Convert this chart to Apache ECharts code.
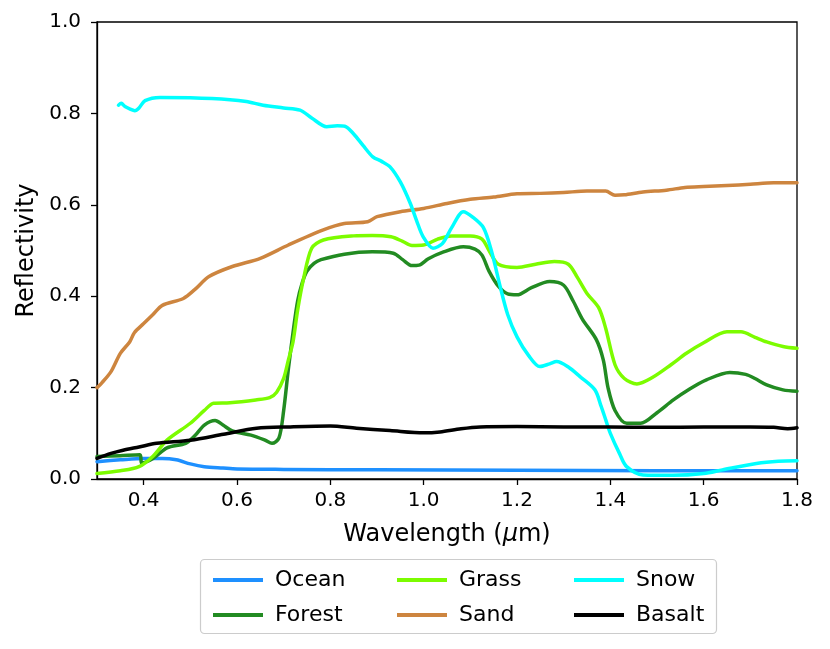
<!DOCTYPE html>
<html>
<head>
<meta charset="utf-8">
<script src="https://cdn.jsdelivr.net/npm/echarts@6/dist/echarts.min.js"></script>
<style>
  html, body { margin: 0; padding: 0; background: #fff; }
  #chart { width: 830px; height: 649px; }
</style>
</head>
<body>
<div id="chart"></div>
<script>
// Reflectivity spectra (wavelength in um)
const oceanWl = [0.3, 0.35, 0.4, 0.44, 0.47, 0.5, 0.53, 0.57, 0.6, 0.7, 0.9, 1.2, 1.5, 1.8];
const oceanR  = [0.038, 0.042, 0.045, 0.045, 0.042, 0.033, 0.027, 0.024, 0.022, 0.021, 0.02, 0.019, 0.018, 0.018];

const forestWl = [0.3, 0.35, 0.392, 0.396, 0.42, 0.45, 0.49, 0.51, 0.53, 0.553, 0.57, 0.59, 0.63, 0.66, 0.675,
  0.69, 0.7, 0.71, 0.72, 0.73, 0.74, 0.75, 0.765, 0.78, 0.83, 0.89, 0.935, 0.955, 0.975, 0.99, 1.01, 1.04,
  1.085, 1.11, 1.125, 1.14, 1.16, 1.18, 1.2, 1.23, 1.27, 1.3, 1.32, 1.34, 1.37, 1.385, 1.395, 1.41, 1.435,
  1.465, 1.5, 1.535, 1.57, 1.606, 1.656, 1.69, 1.71, 1.735, 1.77, 1.8];
const forestR = [0.049, 0.051, 0.053, 0.035, 0.045, 0.068, 0.078, 0.095, 0.118, 0.128, 0.118, 0.105, 0.096, 0.085, 0.078,
  0.09, 0.15, 0.24, 0.32, 0.39, 0.43, 0.455, 0.472, 0.48, 0.492, 0.497, 0.494, 0.48, 0.467, 0.468, 0.482, 0.496,
  0.508, 0.503, 0.49, 0.455, 0.422, 0.405, 0.403, 0.418, 0.432, 0.424, 0.39, 0.35, 0.305, 0.26, 0.2, 0.15, 0.122,
  0.122, 0.145, 0.173, 0.197, 0.217, 0.233, 0.229, 0.22, 0.206, 0.195, 0.192];

const grassWl = [0.3, 0.35, 0.39, 0.42, 0.45, 0.5, 0.53, 0.55, 0.585, 0.64, 0.67, 0.685, 0.7, 0.71, 0.72, 0.73,
  0.742, 0.76, 0.785, 0.85, 0.89, 0.93, 0.955, 0.975, 1.0, 1.03, 1.06, 1.1, 1.125, 1.14, 1.16, 1.2, 1.24, 1.28,
  1.31, 1.33, 1.35, 1.375, 1.39, 1.41, 1.43, 1.457, 1.49, 1.53, 1.563, 1.6, 1.65, 1.68, 1.71, 1.735, 1.77, 1.8];
const grassR = [0.012, 0.018, 0.027, 0.05, 0.085, 0.122, 0.15, 0.166, 0.167, 0.173, 0.178, 0.19, 0.22, 0.26, 0.3, 0.37,
  0.435, 0.505, 0.523, 0.532, 0.533, 0.53, 0.52, 0.511, 0.512, 0.525, 0.532, 0.532, 0.525, 0.5, 0.47, 0.463, 0.47, 0.476,
  0.47, 0.44, 0.406, 0.375, 0.33, 0.25, 0.22, 0.208, 0.222, 0.25, 0.275, 0.298, 0.322, 0.322, 0.31, 0.3, 0.29, 0.286];

const sandWl = [0.3, 0.31, 0.33, 0.35, 0.37, 0.38, 0.4, 0.42, 0.44, 0.485, 0.51, 0.54, 0.59, 0.65, 0.71, 0.785,
  0.83, 0.88, 0.9, 0.95, 1.0, 1.05, 1.1, 1.15, 1.2, 1.25, 1.3, 1.35, 1.39, 1.41, 1.43, 1.47, 1.52, 1.56, 1.6,
  1.65, 1.7, 1.75, 1.8];
const sandR = [0.2, 0.21, 0.235, 0.275, 0.3, 0.32, 0.34, 0.36, 0.38, 0.395, 0.415, 0.443, 0.465, 0.483, 0.512, 0.545,
  0.559, 0.563, 0.574, 0.585, 0.592, 0.603, 0.612, 0.617, 0.624, 0.625, 0.627, 0.63, 0.63, 0.621, 0.622, 0.628, 0.632,
  0.638, 0.64, 0.642, 0.645, 0.648, 0.648];

const snowWl = [0.346, 0.352, 0.36, 0.37, 0.381, 0.39, 0.403, 0.435, 0.5, 0.585, 0.62, 0.656, 0.7, 0.735, 0.76,
  0.792, 0.815, 0.831, 0.85, 0.87, 0.891, 0.91, 0.928, 0.95, 0.971, 0.985, 0.999, 1.02, 1.04, 1.06, 1.085, 1.105,
  1.128, 1.145, 1.164, 1.18, 1.2, 1.225, 1.249, 1.27, 1.285, 1.31, 1.335, 1.367, 1.38, 1.39, 1.4, 1.42, 1.435,
  1.47, 1.534, 1.6, 1.64, 1.713, 1.76, 1.8];
const snowR = [0.818, 0.822, 0.815, 0.81, 0.806, 0.812, 0.828, 0.835, 0.834, 0.83, 0.826, 0.818, 0.812, 0.807, 0.79,
  0.771, 0.773, 0.772, 0.755, 0.73, 0.705, 0.695, 0.683, 0.65, 0.604, 0.565, 0.53, 0.505, 0.515, 0.55, 0.585, 0.573,
  0.55, 0.5, 0.421, 0.36, 0.311, 0.27, 0.246, 0.252, 0.257, 0.245, 0.224, 0.195, 0.16, 0.13, 0.1, 0.055, 0.027,
  0.009, 0.008, 0.012, 0.02, 0.034, 0.039, 0.04];

const basaltWl = [0.3, 0.33, 0.356, 0.39, 0.428, 0.5, 0.571, 0.642, 0.714, 0.8, 0.856, 0.928, 1.0, 1.035, 1.08,
  1.121, 1.2, 1.3, 1.4, 1.5, 1.6, 1.7, 1.75, 1.78, 1.8];
const basaltR = [0.045, 0.056, 0.063, 0.07, 0.078, 0.085, 0.098, 0.111, 0.114, 0.116, 0.111, 0.106, 0.101, 0.103, 0.11,
  0.114, 0.115, 0.114, 0.114, 0.113, 0.114, 0.114, 0.113, 0.11, 0.112];

const xTicks = [0.4, 0.6, 0.8, 1.0, 1.2, 1.4, 1.6, 1.8];

const surfaces = [
  { name: 'Ocean',  color: '#1E90FF', wl: oceanWl,  r: oceanR },
  { name: 'Forest', color: '#228B22', wl: forestWl, r: forestR },
  { name: 'Grass',  color: '#7CFC00', wl: grassWl,  r: grassR },
  { name: 'Sand',   color: '#CD853F', wl: sandWl,   r: sandR },
  { name: 'Snow',   color: '#00FFFF', wl: snowWl,   r: snowR },
  { name: 'Basalt', color: '#000000', wl: basaltWl, r: basaltR }
];

const font = 'DejaVu Sans';

// legend is 3 columns x 2 rows, filled column by column
const legendCols = [208, 392, 569];
const legendRows = [563, 598];
const legends = surfaces.map((s, i) => ({
  data: [s.name],
  left: legendCols[Math.floor(i / 2)],
  top: legendRows[i % 2],
  icon: 'rect',
  itemWidth: 50,
  itemHeight: 4,
  selectedMode: false,
  textStyle: { fontFamily: font, fontSize: 22, color: '#000', lineHeight: 24, padding: [0, 0, 0, 7] }
}));

const chart = echarts.init(document.getElementById('chart'), null, { renderer: 'canvas' });

chart.setOption({
  animation: false,
  backgroundColor: '#fff',
  grid: {
    left: 97, right: 33, top: 22, bottom: 170,
    show: true, borderColor: '#000', borderWidth: 1.3
  },
  graphic: [{
    type: 'rect',
    shape: { x: 200.5, y: 559.5, width: 516, height: 74, r: 4 },
    style: { fill: '#fff', stroke: '#cccccc', lineWidth: 1.2 },
    z: -1
  }],
  legend: legends,
  xAxis: {
    type: 'value',
    min: 0.3,
    max: 1.8,
    name: '{n|Wavelength (}{i|μ}{n|m)}',
    nameLocation: 'middle',
    nameGap: 44,
    nameTextStyle: {
      rich: {
        n: { fontFamily: font, fontSize: 24, color: '#000' },
        i: { fontFamily: font, fontSize: 24, color: '#000', fontStyle: 'italic' }
      }
    },
    axisLine: { show: true, lineStyle: { color: '#000', width: 1.3 } },
    axisTick: { show: true, length: 6, lineStyle: { color: '#000', width: 1.3 }, customValues: xTicks },
    axisLabel: {
      customValues: xTicks,
      margin: 12,
      fontFamily: font, fontSize: 20, color: '#000',
      formatter: v => v.toFixed(1)
    },
    splitLine: { show: false }
  },
  yAxis: {
    type: 'value',
    min: 0,
    max: 1,
    interval: 0.2,
    name: 'Reflectivity',
    nameLocation: 'middle',
    nameGap: 58,
    nameTextStyle: { fontFamily: font, fontSize: 24, color: '#000' },
    axisLine: { show: true, lineStyle: { color: '#000', width: 1.3 } },
    axisTick: { show: true, length: 6, lineStyle: { color: '#000', width: 1.3 } },
    axisLabel: {
      margin: 16,
      fontFamily: font, fontSize: 20, color: '#000',
      formatter: v => v.toFixed(1)
    },
    splitLine: { show: false }
  },
  series: surfaces.map(s => ({
    name: s.name,
    type: 'line',
    symbol: 'none',
    smooth: 0.3,
    color: s.color,
    lineStyle: { color: s.color, width: 3.5, join: 'round', cap: 'round' },
    data: s.wl.map((w, k) => [w, s.r[k]])
  }))
});
</script>
</body>
</html>
